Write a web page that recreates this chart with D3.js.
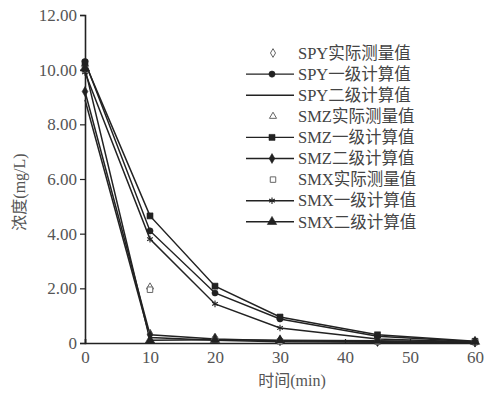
<!DOCTYPE html>
<html lang="zh">
<head>
<meta charset="UTF-8">
<title>浓度</title>
<script src="https://d3js.org/d3.v7.min.js"></script>
<style>
  body { margin: 0; background: #fff; }
  .tick text { font-family: "Liberation Serif", "Noto Sans CJK SC", serif; fill: #555; }
  .legend text { font-family: "Liberation Serif", "Noto Sans CJK SC", serif; fill: #444; font-size: 16.5px; }
</style>
</head>
<body>
<div id="chart"></div>
<script>
// sampling times (min)
const times = [0, 10, 20, 30, 45, 60];

// concentrations (mg/L)
const spyMeasured = [10.1, 0.35, 0.2, 0.1, 0.05, 0.02];
const spyFirst    = [10.3, 4.1, 1.83, 0.88, 0.25, 0.05];
const spySecond   = [8.9, 0.2, 0.1, 0.05, 0.03, 0.02];
const smzMeasured = [10.2, 2.05, 0.2, 0.1, 0.08, 0.04];
const smzFirst    = [10.25, 4.65, 2.08, 0.95, 0.3, 0.06];
const smzSecond   = [9.2, 0.3, 0.15, 0.08, 0.05, 0.03];
const smxMeasured = [10.0, 1.95, 0.12, 0.06, 0.05, 0.03];
const smxFirst    = [9.9, 3.8, 1.43, 0.55, 0.15, 0.04];
const smxSecond   = [10.05, 0.1, 0.12, 0.1, 0.08, 0.05];

const xTicks = [0, 10, 20, 30, 40, 50, 60];
const yTicks = [0, 2, 4, 6, 8, 10, 12];

const series = [
  { name: "SPY实际测量值", values: spyMeasured, line: false, marker: "diamondOpen" },
  { name: "SPY一级计算值", values: spyFirst, line: true, marker: "circle" },
  { name: "SPY二级计算值", values: spySecond, line: true, marker: null },
  { name: "SMZ实际测量值", values: smzMeasured, line: false, marker: "triangleOpen" },
  { name: "SMZ一级计算值", values: smzFirst, line: true, marker: "square" },
  { name: "SMZ二级计算值", values: smzSecond, line: true, marker: "diamond" },
  { name: "SMX实际测量值", values: smxMeasured, line: false, marker: "squareOpen" },
  { name: "SMX一级计算值", values: smxFirst, line: true, marker: "asterisk" },
  { name: "SMX二级计算值", values: smxSecond, line: true, marker: "triangle" }
];

const W = 487, H = 396;
const ink = "#222";

const svg = d3.select("#chart").append("svg")
  .attr("width", W).attr("height", H);

const x = d3.scaleLinear().domain([0, 60]).range([85, 475]);
const y = d3.scaleLinear().domain([0, 12]).range([343, 15]);

// axes
const xAxis = svg.append("g")
  .attr("transform", `translate(0,${y(0)})`)
  .call(d3.axisBottom(x).tickValues(xTicks).tickSize(-4).tickPadding(8).tickFormat(d3.format("d")));
xAxis.selectAll("text").style("font-size", "17px");

const yAxis = svg.append("g")
  .attr("transform", `translate(${x(0)},0)`)
  .call(d3.axisLeft(y).tickValues(yTicks).tickSize(5).tickPadding(3)
    .tickFormat(d => d === 0 ? "0" : d3.format(".2f")(d)));
yAxis.selectAll("text").style("font-size", "17px");

svg.selectAll(".domain").attr("stroke", ink).attr("stroke-width", 1.6);
svg.selectAll(".tick line").attr("stroke", ink).attr("stroke-width", 1.2);

// axis titles
svg.append("text")
  .attr("transform", `translate(25,192) rotate(-90)`)
  .attr("text-anchor", "middle")
  .style("font-family", "\"Liberation Serif\", \"Noto Sans CJK SC\", serif")
  .style("font-size", "16px").attr("fill", "#555")
  .text("浓度(mg/L)");

svg.append("text")
  .attr("x", 292).attr("y", 386)
  .attr("text-anchor", "middle")
  .style("font-family", "\"Liberation Serif\", \"Noto Sans CJK SC\", serif")
  .style("font-size", "16px").attr("fill", "#555")
  .text("时间(min)");

// marker drawing
function drawMarker(g, type, cx, cy) {
  if (!type) return;
  const sym = {
    circle: d3.symbolCircle, square: d3.symbolSquare, diamond: d3.symbolDiamond,
    triangle: d3.symbolTriangle, diamondOpen: d3.symbolDiamond,
    triangleOpen: d3.symbolTriangle, squareOpen: d3.symbolSquare
  };
  const sizes = {
    circle: 30, square: 36, diamond: 28, triangle: 38,
    diamondOpen: 22, triangleOpen: 22, squareOpen: 30
  };
  if (type === "asterisk") {
    g.append("path")
      .attr("transform", `translate(${cx},${cy})`)
      .attr("d", d3.symbol(d3.symbolAsterisk, 30)())
      .attr("fill", "none").attr("stroke", ink).attr("stroke-width", 1.1);
    return;
  }
  const open = type.endsWith("Open");
  g.append("path")
    .attr("transform", `translate(${cx},${cy})`)
    .attr("d", d3.symbol(sym[type], sizes[type])())
    .attr("fill", open ? "#fff" : ink)
    .attr("stroke", open ? "#666" : ink)
    .attr("stroke-width", open ? 1 : 0.6);
}

const line = d3.line().x((d, i) => x(times[i])).y(d => y(d));

const plot = svg.append("g");
series.forEach(s => {
  if (s.line) {
    plot.append("path")
      .datum(s.values)
      .attr("d", line)
      .attr("fill", "none")
      .attr("stroke", ink)
      .attr("stroke-width", 1.5);
  }
});
series.forEach(s => {
  s.values.forEach((v, i) => drawMarker(plot, s.marker, x(times[i]), y(v)));
});

// legend
const legend = svg.append("g").attr("class", "legend");
series.forEach((s, i) => {
  const ly = 53 + i * 21.1;
  if (s.line) {
    legend.append("line")
      .attr("x1", 246).attr("x2", 294).attr("y1", ly).attr("y2", ly)
      .attr("stroke", ink).attr("stroke-width", 1.4);
  }
  drawMarker(legend, s.marker, s.line ? 272 : 273, ly);
  legend.append("text")
    .attr("x", 298).attr("y", ly)
    .attr("dy", "0.35em")
    .text(s.name);
});
</script>
</body>
</html>
